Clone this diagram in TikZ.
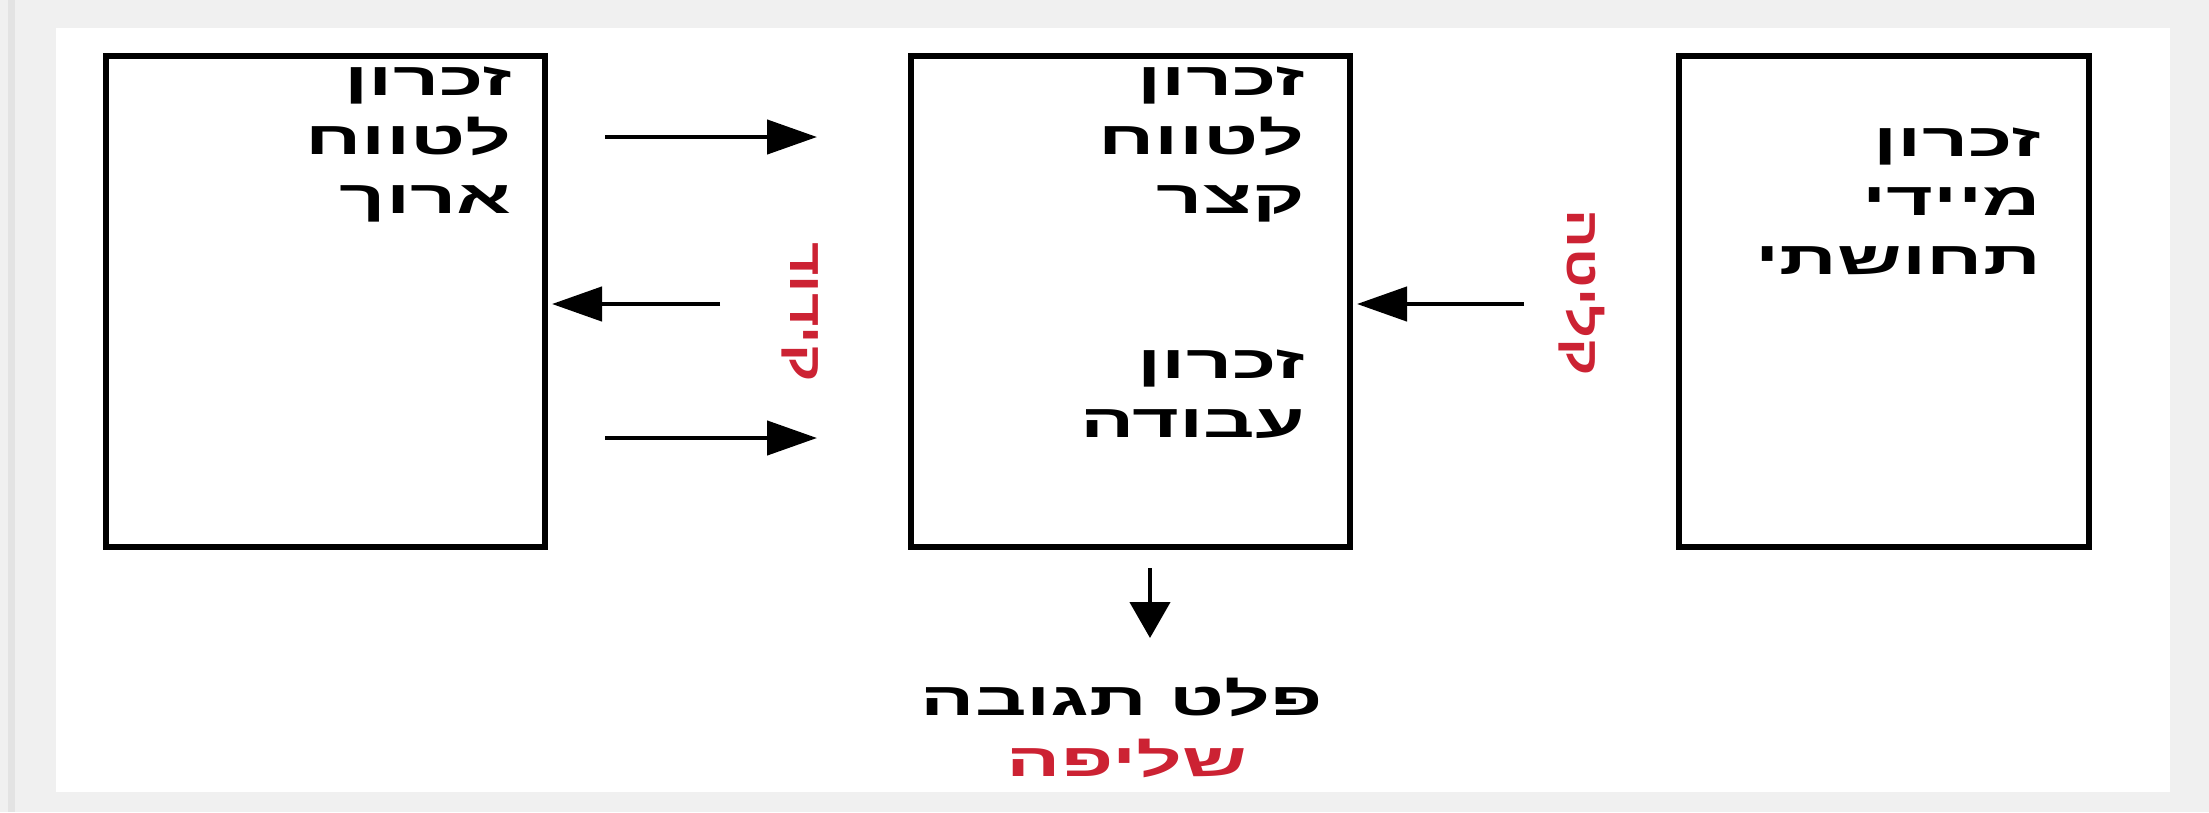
\documentclass[tikz,border=0pt]{standalone}
\usepackage{fontspec}
\usetikzlibrary{arrows.meta}
\newfontfamily\hebfont[Script=Hebrew,FakeStretch=1.75,UprightFont={* Bold}]{Liberation Sans}
\newfontfamily\stagefont[Script=Hebrew,FakeStretch=1.25,UprightFont={* Bold}]{Liberation Sans}
\TeXXeTstate=1
\definecolor{stagered}{RGB}{204,34,51}
\newcommand{\hebline}[1]{\beginR #1\endR}
\tikzset{
	membox/.style={draw, line width=5.5pt, minimum height=491pt, inner sep=0pt},
	memtext/.style={anchor=north east, align=right, inner sep=0pt, font=\hebfont\fontsize{46}{59}\selectfont},
	stagetext/.style={text=stagered, rotate=-90, inner sep=0pt, font=\stagefont\fontsize{46}{59}\selectfont},
	flow/.style={line width=4.5pt, -{Triangle[length=50pt,width=34pt]}}
}
\begin{document}
\begin{tikzpicture}[x=1pt, y=-1pt]
	\useasboundingbox (0,0) rectangle (2209,812);
	\fill[gray!12] (0,0) rectangle (2209,812);
	\fill[gray!22] (8,0) rectangle (15,812);
	\fill[white] (56,28) rectangle (2170,792);
	% boxes
	\node[membox, minimum width=439pt] (ltm) at (325.5,301.5) {};
	\node[membox, minimum width=439pt] (stm) at (1130.5,301.5) {};
	\node[membox, minimum width=410pt] (sens) at (1884,301.5) {};
	\node[memtext] (ltmtext) at (512,67) {\hebline{זכרון}\\\hebline{לטווח}\\\hebline{ארוך}};
	\node[memtext] (stmtext) at (1305,67) {\hebline{זכרון}\\\hebline{לטווח}\\\hebline{קצר}};
	\node[memtext] (wmtext) at (1305,350) {\hebline{זכרון}\\\hebline{עבודה}};
	\node[memtext] (senstext) at (2041,128) {\hebline{זכרון}\\\hebline{מיידי}\\\hebline{תחושתי}};
	% stages
	\node[stagetext] (encode) at (800,312) {\hebline{קידוד}};
	\node[stagetext] (perceive) at (1582,293) {\hebline{קליטה}};
	\node[font=\hebfont\fontsize{46}{59}\selectfont, inner sep=0pt] (resp) at (1122,697) {\hebline{פלט תגובה}};
	\node[font=\hebfont\fontsize{46}{59}\selectfont, text=stagered, inner sep=0pt] (retr) at (1127,758) {\hebline{שליפה}};
	% arrows
	\coordinate (a1) at (605,137);
	\coordinate (b1) at (817,137);
	\coordinate (a2) at (720,304);
	\coordinate (b2) at (552,304);
	\coordinate (a3) at (605,438);
	\coordinate (b3) at (817,438);
	\coordinate (a4) at (1524,304);
	\coordinate (b4) at (1357,304);
	\coordinate (a5) at (1150,568);
	\coordinate (b5) at (1150,638);
	\draw[flow] (a1) -- (b1);
	\draw[flow] (a2) -- (b2);
	\draw[flow] (a3) -- (b3);
	\draw[flow] (a4) -- (b4);
	\draw[flow, -{Triangle[length=36pt,width=40pt]}] (a5) -- (b5);
\end{tikzpicture}
\end{document}
